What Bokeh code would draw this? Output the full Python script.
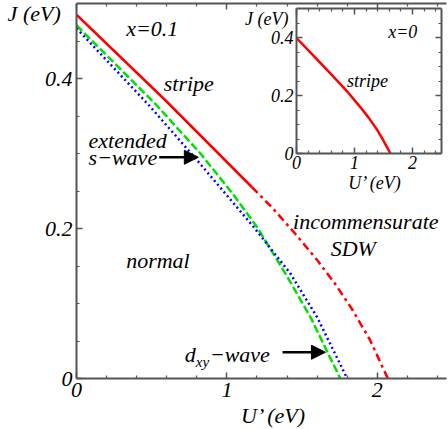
from bokeh.plotting import figure
from bokeh.models import LinearAxis, FixedTicker, Label, Arrow, NormalHead, Range1d
from bokeh.layouts import column
from bokeh.embed import file_html
from bokeh.resources import INLINE

# ---------------- data (main panel, x = 0.1) ----------------
stripe_u = [0.0, 0.591, 1.167]
stripe_j = [0.485, 0.371, 0.255]
isdw_u = [1.167, 1.30, 1.45, 1.60, 1.72, 1.83, 1.95, 2.07]
isdw_j = [0.255, 0.228, 0.194, 0.158, 0.126, 0.093, 0.052, 0.0]
ext_s_u = [0.0, 0.525, 0.824, 1.04, 1.20, 1.389, 1.555, 1.754]
ext_s_j = [0.471, 0.366, 0.300, 0.246, 0.202, 0.140, 0.082, 0.0]
dxy_u = [0.0, 0.492, 0.802, 1.178, 1.422, 1.599, 1.80]
dxy_j = [0.467, 0.362, 0.291, 0.202, 0.140, 0.082, 0.0]

# ---------------- data (inset, x = 0) ----------------
inset_u = [0.0, 0.3, 0.6, 0.9, 1.1, 1.25, 1.38, 1.48, 1.56, 1.62]
inset_j = [0.398, 0.336, 0.273, 0.208, 0.160, 0.122, 0.085, 0.051, 0.022, 0.0]

# ticks
x_major = [0, 1, 2]
x_labels = ["0", "1", "2"]
x_minor = [0.2, 0.4, 0.6, 0.8, 1.2, 1.4, 1.6, 1.8, 2.2, 2.4]
y_major = [0, 0.2, 0.4]
y_labels = ["0", "0.2", "0.4"]
y_minor = [0.05, 0.1, 0.15, 0.25, 0.3, 0.35, 0.45]

FONT = "Liberation Serif"
AX = "#555555"

# main geometry
W, H = 448, 429
BL, BR, BT, BB = 76, 2, 3, 51
XMAX, YMAX = 2.46, 0.5


def axis_style():
    return dict(axis_line_color=AX, axis_line_width=2,
                major_tick_in=6, major_tick_out=0, minor_tick_in=3, minor_tick_out=0,
                major_tick_line_color=AX, minor_tick_line_color=AX,
                major_tick_line_width=1.5, minor_tick_line_width=1.2)


def frame_axes(p, fs, sx, sy, right=False):
    xt = FixedTicker(ticks=x_major, minor_ticks=x_minor)
    yt = FixedTicker(ticks=y_major, minor_ticks=y_minor)
    shown = dict(major_label_text_font=FONT, major_label_text_font_style="italic",
                 major_label_text_color="black", **axis_style())
    hidden = dict(major_label_text_font_size="0px", major_label_text_color=None,
                  major_label_standoff=0, **axis_style())
    p.add_layout(LinearAxis(ticker=xt, major_label_overrides=dict(zip(x_major, x_labels)),
                            major_label_text_font_size=fs, major_label_standoff=sx, **shown), "below")
    p.add_layout(LinearAxis(ticker=yt, major_label_overrides=dict(zip(y_major, y_labels)),
                            major_label_text_font_size=fs, major_label_standoff=sy, **shown), "left")
    p.add_layout(LinearAxis(ticker=xt, **hidden), "above")
    if right:
        p.add_layout(LinearAxis(ticker=yt, **hidden), "right")


def lab(p, text, x, y, fs, align="left", xo=0, yo=0):
    p.add_layout(Label(x=x, y=y, text=text, text_font=FONT, text_font_style="italic",
                       text_font_size=fs, text_align=align, text_baseline="middle",
                       x_offset=xo, y_offset=yo, text_color="black"))


# ---------------- main figure ----------------
p = figure(width=W, height=H, x_range=(0, XMAX), y_range=(0, YMAX),
           output_backend="svg", toolbar_location=None,
           x_axis_type=None, y_axis_type=None,
           min_border_left=BL, min_border_right=BR, min_border_top=BT, min_border_bottom=BB,
           outline_line_color=None, background_fill_color="white", border_fill_color="white")
frame_axes(p, "22px", 4, 4)

p.line(stripe_u, stripe_j, color="#ff0000", line_width=2.5)
p.line(isdw_u, isdw_j, color="#ff0000", line_width=2.5, line_dash="8 4 3 4")
p.line(ext_s_u, ext_s_j, color="#00e000", line_width=2.5, line_dash="8 3")
p.line(dxy_u, dxy_j, color="#0000ff", line_width=2.5, line_dash="2 3")

MF = "22px"
lab(p, "x=0.1", 0.33, 0.467, MF)
lab(p, "stripe", 0.58, 0.393, MF)
lab(p, "extended", 0.08, 0.317, MF)
lab(p, "s\u2212wave", 0.08, 0.295, MF)
lab(p, "normal", 0.33, 0.157, MF)
lab(p, "incommensurate", 1.44, 0.21, MF)
lab(p, "SDW", 1.69, 0.173, MF)
lab(p, "d", 0.72, 0.032, MF)
lab(p, "xy", 0.72, 0.032, "15px", xo=11, yo=-7)
lab(p, "\u2212wave", 0.72, 0.032, MF, xo=25)

arrow_x0 = [0.55, 1.37]
arrow_x1 = [0.81, 1.655]
arrow_y = [0.295, 0.035]
for a, b, c in zip(arrow_x0, arrow_x1, arrow_y):
    p.add_layout(Arrow(x_start=a, y_start=c, x_end=b, y_end=c, line_width=2.5, line_color="black",
                       end=NormalHead(size=14, fill_color="black", line_color="black")))

# ---------------- transparent overlay (main coordinates) for texts outside the frames ----------------
sx = (W - BL - BR) / XMAX
sy = (H - BT - BB) / YMAX
o = figure(width=W, height=H,
           x_range=Range1d(-BL / sx, XMAX + BR / sx), y_range=Range1d(-BB / sy, YMAX + BT / sy),
           output_backend="svg", toolbar_location=None, x_axis_type=None, y_axis_type=None,
           min_border_left=0, min_border_right=0, min_border_top=0, min_border_bottom=0,
           outline_line_color=None, background_fill_color=None, border_fill_color=None,
           frame_align=False, margin=(-H, 0, 0, 0))
lab(o, "J (eV)", -0.458, 0.487, MF)
lab(o, "U\u2019 (eV)", 1.315, -0.049, MF, align="center")
lab(o, "J (eV)", 1.41, 0.48, "18px", align="right")
lab(o, "U\u2019 (eV)", 1.988, 0.261, "18px", align="center")

# ---------------- inset figure ----------------
q = figure(width=223, height=195, x_range=(0, 2.5), y_range=(0, 0.5),
           output_backend="svg", toolbar_location=None,
           x_axis_type=None, y_axis_type=None,
           min_border_left=76, min_border_right=2, min_border_top=8, min_border_bottom=42,
           outline_line_color=None, background_fill_color="white", border_fill_color=None,
           frame_align=False, margin=(-H, 0, 0, 220))
frame_axes(q, "18px", 2, 3, right=True)
q.line(inset_u, inset_j, color="#ff0000", line_width=2.5)

IF = "18px"
lab(q, "x=0", 1.58, 0.42, IF)
lab(q, "stripe", 0.87, 0.25, IF)

layout = column(p, o, q)
open("out.html", "w").write(file_html(layout, INLINE))
